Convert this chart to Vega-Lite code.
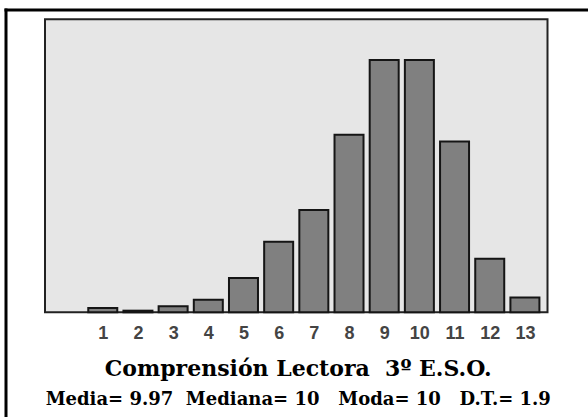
{
  "$schema": "https://vega.github.io/schema/vega-lite/v6.json",
  "width": 582.5,
  "height": 407.5,
  "autosize": {"type": "none"},
  "padding": {"left": 5.5, "top": 9.5, "right": 0, "bottom": 0},
  "background": "white",
  "title": {
    "text": "Comprensión Lectora\u00a0\u00a03º E.S.O.",
    "subtitle": "Media= 9.97\u00a0\u00a0Mediana= 10\u00a0\u00a0\u00a0Moda= 10\u00a0\u00a0\u00a0D.T.= 1.9",
    "orient": "bottom",
    "anchor": "middle",
    "frame": "group",
    "font": "DejaVu Serif",
    "fontSize": 22,
    "fontWeight": "bold",
    "color": "black",
    "subtitleFont": "DejaVu Serif",
    "subtitleFontSize": 18,
    "subtitleFontWeight": "bold",
    "subtitleColor": "black",
    "offset": -61,
    "subtitlePadding": 10.5,
    "dx": 1.5
  },
  "datasets": {
    "frecuencias": [
      {"puntuacion": 1, "porcentaje": 0.36},
      {"puntuacion": 2, "porcentaje": 0.14},
      {"puntuacion": 3, "porcentaje": 0.53},
      {"puntuacion": 4, "porcentaje": 1.07},
      {"puntuacion": 5, "porcentaje": 2.94},
      {"puntuacion": 6, "porcentaje": 6.06},
      {"puntuacion": 7, "porcentaje": 8.79},
      {"puntuacion": 8, "porcentaje": 15.26},
      {"puntuacion": 9, "porcentaje": 21.69},
      {"puntuacion": 10, "porcentaje": 21.69},
      {"puntuacion": 11, "porcentaje": 14.69},
      {"puntuacion": 12, "porcentaje": 4.60},
      {"puntuacion": 13, "porcentaje": 1.28}
    ],
    "marco": [{"parte": "area"}]
  },
  "layer": [
    {
      "data": {"name": "marco"},
      "mark": {"type": "rect", "fill": "#e6e6e6", "stroke": "#222222", "strokeWidth": 2},
      "encoding": {
        "x": {"datum": -0.5, "type": "quantitative", "scale": {"domain": [-0.5, 13.5], "range": [39.5, 542], "nice": false, "zero": false}, "axis": null},
        "x2": {"datum": 13.5},
        "y": {"datum": 0, "type": "quantitative", "scale": {"domain": [0, 25.2], "range": [302.8, 9.8], "nice": false, "zero": false}, "axis": null},
        "y2": {"datum": 25.2}
      }
    },
    {
      "data": {"name": "frecuencias"},
      "mark": {"type": "bar", "fill": "#808080", "stroke": "#151515", "strokeWidth": 2, "width": 29},
      "encoding": {
        "x": {
          "field": "puntuacion",
          "type": "quantitative",
          "scale": {"domain": [-0.5, 13.5], "range": [39.5, 542], "nice": false, "zero": false},
          "axis": {
            "orient": "bottom",
            "offset": -104.7,
            "values": [1, 2, 3, 4, 5, 6, 7, 8, 9, 10, 11, 12, 13],
            "format": "d",
            "title": null,
            "domain": false,
            "ticks": false,
            "grid": false,
            "labelAngle": 0,
            "labelPadding": 12,
            "labelFont": "Liberation Sans",
            "labelFontSize": 18,
            "labelFontWeight": "bold",
            "labelColor": "#444444",
            "labelOverlap": false,
            "labelFlush": false
          }
        },
        "y": {
          "field": "porcentaje",
          "type": "quantitative",
          "scale": {"domain": [0, 25.2], "range": [302.8, 9.8], "nice": false, "zero": false},
          "axis": null
        }
      }
    },
    {
      "data": {"name": "marco"},
      "mark": {"type": "point", "opacity": 0},
      "encoding": {
        "x": {"datum": 0, "type": "quantitative", "scale": {"domain": [0, 1], "nice": false}, "axis": {"orient": "top", "domain": true, "domainColor": "#000000", "domainWidth": 3, "domainCap": "square", "labels": false, "ticks": false, "grid": false, "title": null}},
        "y": {"datum": 0, "type": "quantitative", "scale": {"domain": [0, 1], "nice": false}, "axis": {"orient": "left", "domain": true, "domainColor": "#000000", "domainWidth": 3, "domainCap": "square", "labels": false, "ticks": false, "grid": false, "title": null}}
      }
    }
  ],
  "resolve": {"scale": {"x": "independent", "y": "independent"}},
  "config": {
    "view": {"stroke": null, "fill": null}
  }
}
